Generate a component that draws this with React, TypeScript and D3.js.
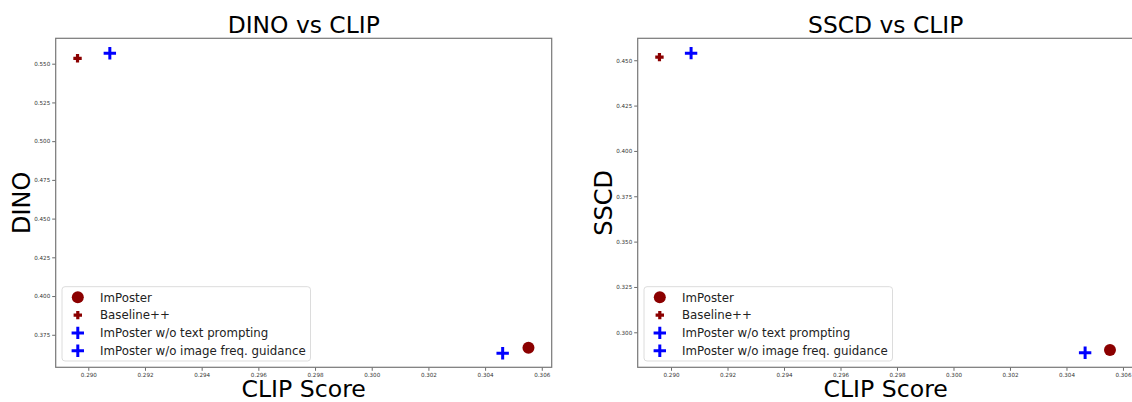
import React, { useEffect, useRef } from 'react';
import * as d3 from 'd3';

// data
const methods = ['ImPoster', 'Baseline++', 'ImPoster w/o text prompting', 'ImPoster w/o image freq. guidance'];
const clipScore = [0.30553, 0.28962, 0.29076, 0.30462];
const dinoScore = [0.3666, 0.5535, 0.5567, 0.3631];
const clipScoreSscd = [0.30554, 0.28959, 0.29071, 0.30466];
const sscdScore = [0.2902, 0.4517, 0.4539, 0.2887];
const markers = ['circle', 'P', 'plus', 'plus'];
const colors = ['#8b0000', '#8b0000', '#0000ff', '#0000ff'];

const xTicks = [0.290, 0.292, 0.294, 0.296, 0.298, 0.300, 0.302, 0.304, 0.306];
const dinoTicks = [0.375, 0.400, 0.425, 0.450, 0.475, 0.500, 0.525, 0.550];
const sscdTicks = [0.300, 0.325, 0.350, 0.375, 0.400, 0.425, 0.450];

const font = 'DejaVu Sans, sans-serif';
const axW = 496;
const axH = 329;

function drawMarker(g, type, color, x, y) {
  if (type === 'circle') {
    g.append('circle').attr('cx', x).attr('cy', y).attr('r', 6).attr('fill', color);
  } else if (type === 'P') {
    const a = 4.2, b = 1.6;
    g.append('path')
      .attr('d', `M${x - b},${y - a}H${x + b}V${y - b}H${x + a}V${y + b}H${x + b}V${y + a}H${x - b}V${y + b}H${x - a}V${y - b}H${x - b}Z`)
      .attr('fill', color);
  } else {
    const a = 6.2;
    g.append('path')
      .attr('d', `M${x - a},${y}H${x + a}M${x},${y - a}V${y + a}`)
      .attr('stroke', color).attr('stroke-width', 3);
  }
}

function Panel({ left, title, yLabel, xs, ys, xDomain, yDomain, yTicks }) {
  const ref = useRef();

  useEffect(() => {
    const root = d3.select(ref.current);
    root.selectAll('*').remove();
    const svg = root.append('g').attr('transform', `translate(${left},38.3)`);

    const x = d3.scaleLinear().domain(xDomain).range([0, axW]);
    const y = d3.scaleLinear().domain(yDomain).range([axH, 0]);

    const xAxis = svg.append('g')
      .attr('transform', `translate(0,${axH})`)
      .call(d3.axisBottom(x).tickValues(xTicks).tickFormat(d3.format('.3f')).tickSize(3.5).tickPadding(2));
    const yAxis = svg.append('g')
      .call(d3.axisLeft(y).tickValues(yTicks).tickFormat(d3.format('.3f')).tickSize(3.5).tickPadding(2));
    [xAxis, yAxis].forEach(a => {
      a.select('.domain').remove();
      a.selectAll('line').attr('stroke', '#444').attr('stroke-width', 0.8);
      a.selectAll('text').attr('font-family', font).attr('font-size', 5.6).attr('fill', '#333');
    });

    svg.append('rect')
      .attr('width', axW).attr('height', axH)
      .attr('fill', 'none').attr('stroke', '#777').attr('stroke-width', 1.2);

    xs.forEach((v, i) => drawMarker(svg, markers[i], colors[i], x(v), y(ys[i])));

    // title and labels
    svg.append('text').attr('x', axW / 2).attr('y', -5.5).attr('text-anchor', 'middle')
      .attr('font-family', font).attr('font-size', 23.4).text(title);
    svg.append('text').attr('x', axW / 2).attr('y', 358.5).attr('text-anchor', 'middle')
      .attr('font-family', font).attr('font-size', 23.6).text('CLIP Score');
    svg.append('text')
      .attr('transform', `translate(-26,${axH / 2}) rotate(-90)`)
      .attr('text-anchor', 'middle')
      .attr('font-family', font).attr('font-size', 24).text(yLabel);

    // legend
    const lg = svg.append('g').attr('transform', 'translate(6.3,248.4)');
    lg.append('rect').attr('width', 248.5).attr('height', 74.3).attr('rx', 3)
      .attr('fill', 'white').attr('fill-opacity', 0.8).attr('stroke', '#d8d8d8').attr('stroke-width', 0.9);
    methods.forEach((m, i) => {
      const cy = 10.6 + i * 17.8;
      drawMarker(lg, markers[i], colors[i], 15.8, cy);
      lg.append('text').attr('x', 38).attr('y', cy + 4.3)
        .attr('font-family', font).attr('font-size', 11.8).attr('fill', '#222').text(m);
    });
  }, []);

  return <g ref={ref} />;
}

export default function App() {
  return (
    <svg width={1132} height={402} style={{ position: 'absolute', left: 0, top: 0, background: 'white' }}>
      <Panel left={55.7} title="DINO vs CLIP" yLabel="DINO"
        xs={clipScore} ys={dinoScore}
        xDomain={[0.28885, 0.30635]} yDomain={[0.354, 0.5664]} yTicks={dinoTicks} />
      <Panel left={637.7} title="SSCD vs CLIP" yLabel="SSCD"
        xs={clipScoreSscd} ys={sscdScore}
        xDomain={[0.28882, 0.30638]} yDomain={[0.2807, 0.4621]} yTicks={sscdTicks} />
    </svg>
  );
}
